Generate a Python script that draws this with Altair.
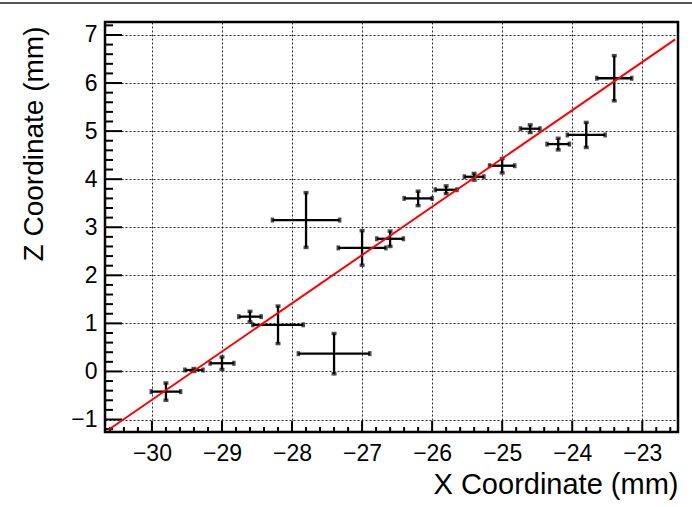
import altair as alt
import numpy as np
import pandas as pd

# ---- data ----
x_vals = [-29.8, -29.4, -29.0, -28.6, -28.2, -27.8, -27.4, -27.0, -26.6,
          -26.2, -25.8, -25.4, -25.0, -24.6, -24.2, -23.8, -23.4]
z_vals = [-0.42, 0.03, 0.17, 1.14, 0.97, 3.15, 0.37, 2.57, 2.76,
          3.60, 3.78, 4.05, 4.28, 5.05, 4.73, 4.92, 6.10]
x_errs = [0.21, 0.13, 0.17, 0.16, 0.36, 0.48, 0.51, 0.34, 0.19,
          0.20, 0.155, 0.14, 0.18, 0.14, 0.16, 0.27, 0.25]
z_errs = [0.18, 0.03, 0.13, 0.11, 0.39, 0.57, 0.42, 0.36, 0.16,
          0.15, 0.08, 0.07, 0.15, 0.08, 0.12, 0.26, 0.47]

fit_slope = 1.004
fit_intercept = 29.53
fit_range = [-30.62, -22.53]

x_major = [-30, -29, -28, -27, -26, -25, -24, -23]
y_major = [-1, 0, 1, 2, 3, 4, 5, 6, 7]
x_minor = [round(v, 1) for v in np.arange(-30.6, -22.5, 0.2) if abs(v - round(v)) > 1e-6]
y_minor = [round(v, 1) for v in np.arange(-1.2, 7.25, 0.2) if abs(v - round(v)) > 1e-6]

X_DOMAIN = [-30.67, -22.49]
Y_DOMAIN = [-1.26, 7.27]
W, H = 573, 410
FONT = "Liberation Sans"

df = pd.DataFrame({"x": x_vals, "z": z_vals, "ex": x_errs, "ez": z_errs})
df["xlo"] = df.x - df.ex
df["xhi"] = df.x + df.ex
df["zlo"] = df.z - df.ez
df["zhi"] = df.z + df.ez

fit_df = pd.DataFrame({"x": fit_range})
fit_df["z"] = fit_slope * fit_df.x + fit_intercept

xs = alt.Scale(domain=X_DOMAIN, nice=False, zero=False)
ys = alt.Scale(domain=Y_DOMAIN, nice=False, zero=False)

x_axis = alt.Axis(
    values=x_major, format="d", grid=True, gridDash=[2, 2], gridColor="black",
    gridWidth=1, gridOpacity=0.85, ticks=False, tickSize=0, domain=False,
    labelFont=FONT, labelFontSize=23, labelColor="black", labelPadding=10,
    title="X Coordinate (mm)", titleFont=FONT, titleFontSize=29,
    titleFontWeight="normal", titleColor="black", titleAlign="right",
    titleAnchor="end", titleX=W, titleY=61, titleBaseline="alphabetic",
)
y_axis = alt.Axis(
    values=y_major, format="d", grid=True, gridDash=[2, 2], gridColor="black",
    gridWidth=1, gridOpacity=0.85, ticks=False, tickSize=0, domain=False,
    labelFont=FONT, labelFontSize=23, labelColor="black", labelPadding=8,
    title="Z Coordinate (mm)", titleFont=FONT, titleFontSize=28,
    titleFontWeight="normal", titleColor="black", titleAngle=270,
    titleAlign="right", titleAnchor="end", titleX=-63, titleY=4,
    titleBaseline="alphabetic",
)

base = alt.Chart(df)

# invisible layer carrying the axes
axes_layer = base.mark_point(opacity=0).encode(
    x=alt.X("x:Q", scale=xs, axis=x_axis),
    y=alt.Y("z:Q", scale=ys, axis=y_axis),
)

BAR_W = 2.3
xerr_rule = base.mark_rule(color="black", strokeWidth=BAR_W).encode(
    x=alt.X("xlo:Q", scale=xs), x2="xhi:Q", y=alt.Y("z:Q", scale=ys)
)
zerr_rule = base.mark_rule(color="black", strokeWidth=BAR_W).encode(
    x=alt.X("x:Q", scale=xs), y=alt.Y("zlo:Q", scale=ys), y2="zhi:Q"
)
CAP = dict(color="black", size=5, thickness=3.5)
cap_xlo = base.mark_tick(orient="vertical", **CAP).encode(
    x=alt.X("xlo:Q", scale=xs), y=alt.Y("z:Q", scale=ys))
cap_xhi = base.mark_tick(orient="vertical", **CAP).encode(
    x=alt.X("xhi:Q", scale=xs), y=alt.Y("z:Q", scale=ys))
cap_zlo = base.mark_tick(orient="horizontal", **CAP).encode(
    x=alt.X("x:Q", scale=xs), y=alt.Y("zlo:Q", scale=ys))
cap_zhi = base.mark_tick(orient="horizontal", **CAP).encode(
    x=alt.X("x:Q", scale=xs), y=alt.Y("zhi:Q", scale=ys))

fit_line = alt.Chart(fit_df).mark_line(color="#ff0000", strokeWidth=2, clip=True).encode(
    x=alt.X("x:Q", scale=xs), y=alt.Y("z:Q", scale=ys)
)

# inward ticks (ROOT style)
ymaj = alt.Chart(pd.DataFrame({"v": y_major})).mark_rule(color="black", strokeWidth=2).encode(
    y=alt.Y("v:Q", scale=ys), x=alt.value(0), x2=alt.value(17))
ymin = alt.Chart(pd.DataFrame({"v": y_minor})).mark_rule(color="black", strokeWidth=2).encode(
    y=alt.Y("v:Q", scale=ys), x=alt.value(0), x2=alt.value(8))
xmaj = alt.Chart(pd.DataFrame({"v": x_major})).mark_rule(color="black", strokeWidth=2).encode(
    x=alt.X("v:Q", scale=xs), y=alt.value(H), y2=alt.value(H - 11))
xmin = alt.Chart(pd.DataFrame({"v": x_minor})).mark_rule(color="black", strokeWidth=2).encode(
    x=alt.X("v:Q", scale=xs), y=alt.value(H), y2=alt.value(H - 5))

# thin window border line at the very top
top_line = alt.Chart(pd.DataFrame({"a": [0]})).mark_rule(color="#555555", strokeWidth=2).encode(
    x=alt.value(-105), x2=alt.value(W + 14), y=alt.value(-19))

chart = alt.layer(
    axes_layer, ymaj, ymin, xmaj, xmin,
    xerr_rule, zerr_rule, cap_xlo, cap_xhi, cap_zlo, cap_zhi,
    fit_line, top_line,
).properties(
    width=W, height=H,
    autosize=alt.AutoSizeParams(type="none"),
    padding={"left": 105, "top": 22, "right": 14, "bottom": 75},
    background="white",
).configure_view(stroke="black", strokeWidth=2.5)

chart.save("out.html", embed_options={"renderer": "svg", "actions": False})
